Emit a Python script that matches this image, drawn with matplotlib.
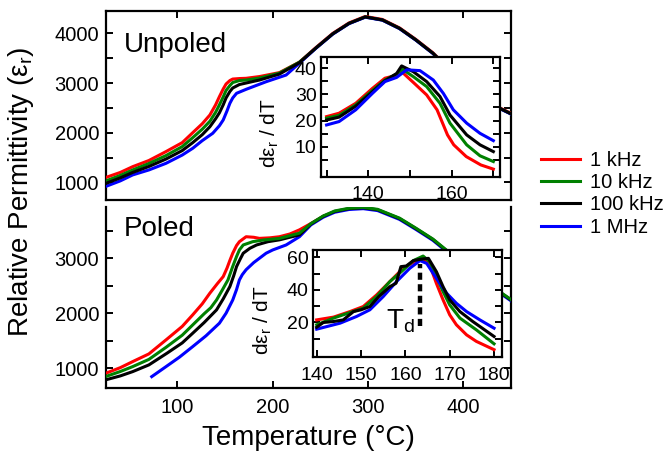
import numpy as np
import matplotlib
matplotlib.use('Agg')
import matplotlib.pyplot as plt
from matplotlib.ticker import MultipleLocator, FixedLocator

plt.rcParams['font.family'] = ['Liberation Sans', 'DejaVu Sans']
plt.rcParams['mathtext.fontset'] = 'custom'
plt.rcParams['mathtext.rm'] = 'Liberation Sans'
plt.rcParams['mathtext.it'] = 'Liberation Sans:italic'

labels = ['1 kHz', '10 kHz', '100 kHz', '1 MHz']
colors = ['#ff0000', '#008000', '#000000', '#0000ff']

# ---- Unpoled, main panel (temperature in C, permittivity) ----
tail_T = [245, 263, 280, 297, 315, 333, 350, 368, 385, 403, 420, 435, 450]
tail_unp = [3700, 3990, 4200, 4330, 4270, 4100, 3870, 3600, 3280, 2960, 2700, 2520, 2380]

unp_red_T = [25, 40, 53, 70, 88, 105, 116, 126, 134, 140, 144, 148, 151, 155, 158, 165, 172, 186, 207, 228]
unp_red = [1100, 1200, 1316, 1440, 1620, 1800, 2000, 2180, 2356, 2560, 2725, 2880, 2980, 3050, 3080, 3090, 3095, 3130, 3210, 3420]
unp_green_T = [25, 40, 53, 70, 88, 105, 116, 126, 134, 140, 144, 148, 151, 155, 158, 165, 172, 186, 207, 228]
unp_green = [1030, 1140, 1250, 1380, 1540, 1720, 1900, 2070, 2230, 2410, 2560, 2720, 2850, 2950, 3010, 3050, 3060, 3100, 3200, 3420]
unp_black_T = [25, 40, 53, 70, 88, 105, 116, 126, 134, 140, 144, 148, 151, 155, 158, 165, 172, 186, 207, 228]
unp_black = [980, 1090, 1200, 1320, 1470, 1640, 1800, 1960, 2120, 2280, 2400, 2560, 2700, 2830, 2900, 2970, 3000, 3060, 3180, 3410]
unp_blue_T = [25, 40, 53, 70, 88, 105, 116, 126, 137, 144, 148, 152, 155, 158, 162, 172, 193, 214, 228]
unp_blue = [920, 1030, 1150, 1250, 1384, 1550, 1686, 1840, 1988, 2140, 2256, 2440, 2592, 2700, 2793, 2873, 3026, 3161, 3400]

# ---- Poled, main panel ----
tail_pol_T = [240, 253, 265, 280, 295, 310, 333, 350, 368, 385, 403, 420, 435, 450]
tail_pol = [3620, 3760, 3850, 3900, 3915, 3880, 3720, 3540, 3340, 3100, 2850, 2620, 2420, 2240]

pol_red_T = [25, 40, 53, 70, 88, 105, 116, 126, 134, 142, 148, 152, 155, 158, 162, 165, 172, 180, 186, 197, 207, 218, 228, 240, 253]
pol_red = [910, 1010, 1120, 1260, 1515, 1760, 1970, 2170, 2364, 2540, 2665, 2820, 2960, 3090, 3230, 3300, 3390, 3380, 3360, 3370, 3390, 3440, 3515, 3630, 3760]
pol_green_T = [25, 40, 53, 70, 88, 105, 116, 128, 135, 141, 147, 153, 158, 162, 165, 169, 179, 190, 207, 228]
pol_green = [850, 940, 1029, 1160, 1380, 1600, 1787, 1990, 2100, 2240, 2420, 2605, 2850, 3030, 3150, 3240, 3300, 3330, 3360, 3455]
pol_black_T = [25, 40, 53, 70, 89, 105, 116, 128, 141, 148, 155, 159, 162, 166, 169, 176, 183, 195, 207, 228]
pol_black = [790, 860, 938, 1060, 1273, 1460, 1636, 1830, 2060, 2260, 2484, 2680, 2847, 2990, 3090, 3180, 3240, 3300, 3333, 3424]
pol_blue_T = [73, 88, 102, 116, 130, 144, 151, 158, 162, 165, 168, 172, 180, 193, 200, 214, 228]
pol_blue = [847, 1029, 1200, 1393, 1590, 1818, 2000, 2240, 2430, 2605, 2700, 2790, 2920, 3090, 3150, 3240, 3390]

# ---- Unpoled inset: d(eps_r)/dT ----
ins_u_red_T = [130, 133, 137, 141, 144, 147, 148, 151, 154, 156.5, 159, 160.5, 163.5, 167, 170]
ins_u_red = [21.5, 22.8, 26.6, 32.3, 36.2, 37.4, 38.7, 34.3, 29.8, 24.1, 14.5, 10.7, 6.2, 3.0, 1.4]
ins_u_green_T = [130, 133, 137, 141, 144, 146.8, 148.2, 150.8, 154, 157.2, 159.6, 163.6, 166.8, 170]
ins_u_green = [20.9, 22.0, 26.0, 31.5, 35.5, 37.8, 39.6, 36.8, 33.0, 26.6, 19.0, 10.7, 6.5, 4.3]
ins_u_black_T = [130, 133, 137, 141, 144, 146.8, 148, 150.8, 154, 157.2, 159.6, 163.6, 166.8, 170]
ins_u_black = [20.2, 21.3, 25.5, 31.0, 35.2, 38.0, 40.9, 38.7, 34.9, 29.2, 22.1, 14.5, 10.7, 8.1]
ins_u_blue_T = [130, 133, 137, 141, 144, 146.8, 149.2, 152.4, 155.6, 158, 160.4, 163.6, 166.8, 170]
ins_u_blue = [18.3, 19.6, 24.1, 30.4, 34.9, 36.5, 39.4, 39.1, 35.5, 30.4, 24.1, 19.0, 15.1, 12.3]

# ---- Poled inset ----
ins_p_red_T = [140, 143.8, 147.5, 150.5, 153.5, 156.5, 159.5, 162.5, 164, 165.5, 167, 168.5, 170, 171.5, 173.8, 176, 180]
ins_p_red = [21.6, 23.3, 26.7, 29.8, 36.9, 45.1, 53.3, 58.0, 59.4, 55.3, 44.0, 33.9, 24.7, 18.6, 12.4, 8.4, 3.3]
ins_p_green_T = [140, 143.8, 147.5, 150.5, 153.5, 156.5, 159.5, 161.8, 164, 165.5, 167, 168.5, 170, 172.3, 176, 180]
ins_p_green = [18.6, 22.7, 26.1, 28.8, 35.9, 45.1, 52.2, 58.0, 60.8, 57.3, 48.2, 39.0, 30.8, 22.7, 15.5, 6.9]
ins_p_black_T = [140, 141.5, 143.8, 146, 148.3, 150, 152, 154, 156.5, 157.9, 159, 160.2, 161.8, 163.3, 165.2, 167, 168.5, 170, 172.3, 175.2, 180]
ins_p_black = [17.1, 20.0, 20.6, 21.6, 26.7, 27.8, 29.8, 35.9, 42.0, 44.1, 54.3, 54.7, 58.0, 58.8, 59.4, 51.2, 42.0, 33.9, 26.7, 20.6, 11.4]
ins_p_blue_T = [140, 145.3, 149, 152, 155, 158, 161, 163.3, 164.8, 167, 169.3, 171.5, 173.8, 176.8, 180]
ins_p_blue = [15.9, 19.6, 23.7, 27.8, 35.9, 45.1, 53.3, 58.0, 56.3, 47.1, 38.0, 31.8, 26.7, 21.6, 16.5]

Td = 163.3
Td_span = [18, 56]

fig = plt.figure(figsize=(6.7, 4.58), dpi=100)

ax_top = fig.add_axes([0.1582, 0.5633, 0.6045, 0.4127])
ax_bot = fig.add_axes([0.1582, 0.1528, 0.6045, 0.3952])
in_top = fig.add_axes([0.4787, 0.6142, 0.2676, 0.2607], zorder=5)
in_bot = fig.add_axes([0.4667, 0.2205, 0.2826, 0.2336], zorder=5)

lw = 2.2

unp = [(unp_red_T, unp_red), (unp_green_T, unp_green), (unp_black_T, unp_black), (unp_blue_T, unp_blue)]
offs = [10, 0, 0, -5]
for (T, v), c, lab, o in zip(unp, colors, labels, offs):
    ax_top.plot(T + tail_T, v + [x + o for x in tail_unp], color=c, lw=lw, label=lab,
                solid_joinstyle='round', zorder=4 if c == '#000000' else 3)

pol = [(pol_red_T, pol_red), (pol_green_T, pol_green), (pol_black_T, pol_black), (pol_blue_T, pol_blue)]
for (T, v), c, o in zip(pol, colors, [None, 8, 0, -15]):
    if o is None:
        ax_bot.plot(T, v, color=c, lw=lw, solid_joinstyle='round', zorder=3)
    else:
        ax_bot.plot(T + tail_pol_T, v + [x + o for x in tail_pol], color=c, lw=lw,
                    solid_joinstyle='round', zorder={'#008000': 5, '#000000': 4}.get(c, 3))

for T, v, c in zip([ins_u_red_T, ins_u_green_T, ins_u_black_T, ins_u_blue_T],
                   [ins_u_red, ins_u_green, ins_u_black, ins_u_blue], colors):
    in_top.plot(T, v, color=c, lw=lw, solid_joinstyle='round')
for T, v, c in zip([ins_p_red_T, ins_p_green_T, ins_p_blue_T, ins_p_black_T],
                   [ins_p_red, ins_p_green, ins_p_blue, ins_p_black],
                   [colors[0], colors[1], colors[3], colors[2]]):
    in_bot.plot(T, v, color=c, lw=lw, solid_joinstyle='round')
in_bot.plot([Td, Td], Td_span, color='black', lw=3.2, linestyle=(0, (1.6, 1.0)))
in_bot.text(158.8, 21, r'T$_\mathrm{d}$', fontsize=20, ha='center', va='center')

# main axes styling
for ax in (ax_top, ax_bot):
    ax.set_xlim(25, 450)
    ax.xaxis.set_major_locator(MultipleLocator(100))
    ax.yaxis.set_major_locator(MultipleLocator(1000))
    ax.yaxis.set_minor_locator(MultipleLocator(500))
    for s in ax.spines.values():
        s.set_linewidth(1.6)
    ax.tick_params(which='both', direction='in', left=True, right=True,
                   length=5, width=1.4, labelsize=14.5, pad=5)

ax_top.set_ylim(645, 4450)
ax_top.tick_params(axis='x', top=True, bottom=False, labelbottom=False)
ax_bot.set_ylim(640, 3930)
ax_bot.spines['top'].set_visible(False)
ax_bot.tick_params(axis='x', top=False, bottom=True, pad=7)

ax_top.text(0.045, 0.82, 'Unpoled', transform=ax_top.transAxes, fontsize=20, va='center')
ax_bot.text(0.045, 0.88, 'Poled', transform=ax_bot.transAxes, fontsize=20, va='center')

# insets
in_top.set_xlim(128.6, 171.6)
in_top.set_ylim(-1.5, 44.2)
in_top.xaxis.set_major_locator(FixedLocator([140, 160]))
in_top.xaxis.set_minor_locator(FixedLocator([130, 150, 170]))
in_top.yaxis.set_major_locator(FixedLocator([10, 20, 30, 40]))
in_top.yaxis.set_minor_locator(FixedLocator([5, 15, 25, 35]))

in_bot.set_xlim(139.1, 181.8)
in_bot.set_ylim(-1.2, 64.5)
in_bot.xaxis.set_major_locator(FixedLocator([140, 150, 160, 170, 180]))
in_bot.yaxis.set_major_locator(FixedLocator([20, 40, 60]))
in_bot.yaxis.set_minor_locator(FixedLocator([10, 30, 50]))

for ax in (in_top, in_bot):
    ax.set_facecolor('white')
    for s in ax.spines.values():
        s.set_linewidth(1.6)
    ax.tick_params(which='both', direction='in', top=True, right=True,
                   length=5, width=1.4, labelsize=14)
    ax.tick_params(axis='x', which='both', pad=7)
    ax.tick_params(axis='y', which='both', pad=3)

fig.text(270 / 670, 1 - 133 / 458, 'dε$_\\mathrm{r}$ / dT', rotation=90,
         ha='center', va='center', fontsize=15, zorder=10)
fig.text(263 / 670, 1 - 320 / 458, 'dε$_\\mathrm{r}$ / dT', rotation=90,
         ha='center', va='center', fontsize=15, zorder=10)

fig.text(0.032, 0.58, 'Relative Permittivity (ε$_\\mathrm{r}$)', rotation=90,
         ha='center', va='center', fontsize=20)
fig.text(0.46, 0.044, 'Temperature (°C)', ha='center', va='center', fontsize=20)

handles, labs = ax_top.get_legend_handles_labels()
fig.legend(handles, labs, loc='center left', bbox_to_anchor=(0.807, 0.577),
           frameon=False, fontsize=14.5, handlelength=1.95, handletextpad=0.5,
           labelspacing=0.17, borderaxespad=0, borderpad=0)

fig.savefig('out.png', dpi=100)
